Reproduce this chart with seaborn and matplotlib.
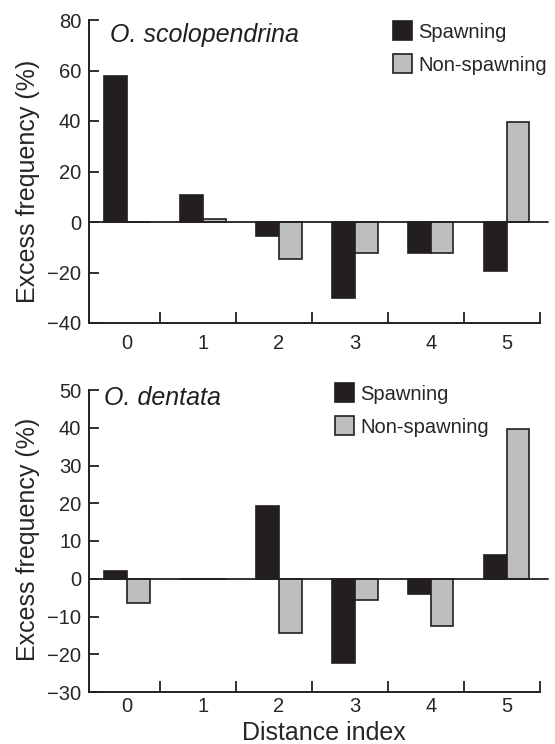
import matplotlib
matplotlib.use("Agg")
import matplotlib.pyplot as plt
import matplotlib.transforms as mtransforms
import seaborn as sns
import pandas as pd

sns.set_style("ticks")
plt.rcParams['font.family'] = ['Liberation Sans', 'DejaVu Sans']

categories = ["0", "1", "2", "3", "4", "5"]
groups = ["Spawning", "Non-spawning"]
scolo_spawning = [58, 10.7, -5.4, -30.2, -12.4, -19.5]
scolo_nonspawning = [0, 1, -14.5, -12.4, -12.4, 39.8]
dent_spawning = [2.0, 0, 19.3, -22.3, -4.1, 6.3]
dent_nonspawning = [-6.4, 0, -14.5, -5.5, -12.5, 39.8]

BLACK = "#231f20"
GRAY = "#bcbec0"

def make_df(sp, nsp):
    rows = []
    for c, v in zip(categories, sp):
        rows.append({"index": c, "value": v, "group": groups[0]})
    for c, v in zip(categories, nsp):
        rows.append({"index": c, "value": v, "group": groups[1]})
    return pd.DataFrame(rows)

W, H = 555, 744
fig = plt.figure(figsize=(W / 100, H / 100), dpi=100)
L, R = 89 / W, 540 / W
ax1 = fig.add_axes([L, 1 - 323 / H, R - L, (323 - 20) / H])
ax2 = fig.add_axes([L, 1 - 692 / H, R - L, (692 - 390) / H])

panels = [
    dict(ax=ax1, df=make_df(scolo_spawning, scolo_nonspawning), title="O. scolopendrina",
         ylim=(-40, 80), yticks=list(range(-40, 81, 20)), xpad=8, ylab_y=0.469,
         title_xy=(110, 35), leg_xy=(393, 21)),
    dict(ax=ax2, df=make_df(dent_spawning, dent_nonspawning), title="O. dentata",
         ylim=(-30, 50), yticks=list(range(-30, 51, 10)), xpad=3.8, ylab_y=0.507,
         title_xy=(104, 398), leg_xy=(335, 383)),
]

for p in panels:
    ax = p["ax"]
    sns.barplot(data=p["df"], x="index", y="value", hue="group", order=categories,
                hue_order=groups, palette=[BLACK, GRAY], width=0.6,
                edgecolor=BLACK, linewidth=1.2, errorbar=None, ax=ax, saturation=1)
    ax.set_xlim(-0.5, 5.43)
    ax.set_ylim(*p["ylim"])
    yt = p["yticks"]
    ax.set_yticks(yt)
    ax.set_yticklabels([str(t).replace("-", "\u2212") for t in yt], fontsize=14.5)
    ax.set_xticks(range(len(categories)))
    ax.set_xticklabels(categories, fontsize=14.5)
    ax.tick_params(axis="x", which="major", length=0, pad=p["xpad"])
    ax.set_xticks([i + 0.44 for i in range(len(categories))], minor=True)
    ax.tick_params(axis="x", which="minor", direction="in", length=8, width=1.3, color=BLACK)
    ax.tick_params(axis="y", direction="in", length=7, width=1.3, color=BLACK, pad=5.5)
    for s in ["top", "right"]:
        ax.spines[s].set_visible(False)
    for s in ["left", "bottom"]:
        ax.spines[s].set_linewidth(1.4)
        ax.spines[s].set_color(BLACK)
    trans = mtransforms.blended_transform_factory(ax.transAxes, ax.transData)
    ax.plot([0, 1.018], [0, 0], color=BLACK, lw=1.3, transform=trans, clip_on=False, zorder=5)
    ax.set_ylabel("Excess frequency (%)", fontsize=18)
    ax.yaxis.set_label_coords((40 - 89) / (540 - 89), p["ylab_y"])
    ax.set_xlabel("")
    tx, ty = p["title_xy"]
    fig.text(tx / W, 1 - ty / H, p["title"], fontsize=18, style="italic",
             ha="left", va="center", color=BLACK)
    handles, labels = ax.get_legend_handles_labels()
    lx, ly = p["leg_xy"]
    ax.legend(handles, labels, loc="upper left", bbox_to_anchor=(lx / W, 1 - ly / H),
              bbox_transform=fig.transFigure, frameon=False, fontsize=14.5,
              handlelength=0.95, handleheight=1.1, handletextpad=0.3,
              labelspacing=0.62, borderpad=0, borderaxespad=0)

ax2.set_xlabel("Distance index", fontsize=18)
ax2.xaxis.set_label_coords(324 / W, 1 - 733 / H, transform=fig.transFigure)
ax2.xaxis.label.set_va("center")

fig.savefig("out.png", dpi=100)
